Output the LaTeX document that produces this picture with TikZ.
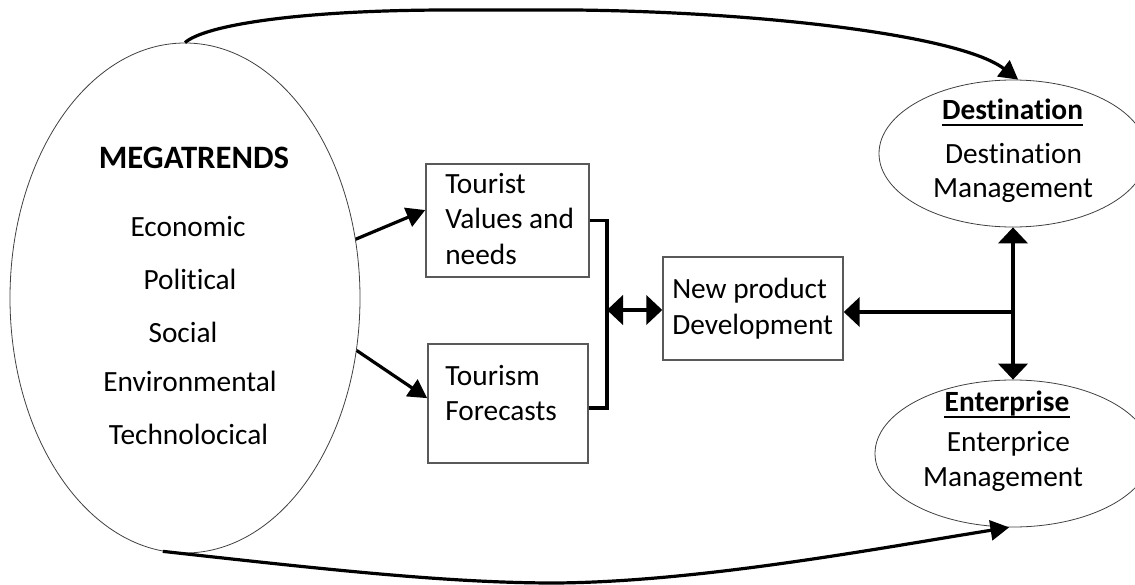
\documentclass[tikz,border=0pt]{standalone}
\usepackage{fontspec}
\setmainfont[Ligatures=NoCommon]{Carlito}
\usetikzlibrary{arrows.meta,shapes.geometric}
\begin{document}
\begin{tikzpicture}[x=0.75pt,y=-0.75pt,
  every node/.style={font=\fontsize{22}{26}\selectfont},
  oval/.style={ellipse,draw=black!75,line width=0.6pt,inner sep=0pt},
  box/.style={draw=black!65,line width=1.1pt,inner sep=0pt},
  lbl/.style={anchor=base,inner sep=0pt},
  lbll/.style={anchor=base west,inner sep=0pt},
  conn/.style={line width=2.4pt},
  smalltip/.style={-{Triangle[length=14pt,width=15pt]}},
  bigtip/.style={-{Triangle[length=12pt,width=22pt]}},
  bigboth/.style={{Triangle[length=12pt,width=22pt]}-{Triangle[length=12pt,width=22pt]}}
]
\useasboundingbox (0,0) rectangle (1135,585);

% shapes
\node[oval,minimum width=262.5pt,minimum height=382.5pt] (mega) at (185,298) {};
\node[oval,minimum width=201pt,minimum height=110.25pt] (dest) at (1013,153.5) {};
\node[oval,minimum width=207pt,minimum height=110.25pt] (ent) at (1013,453.5) {};
\node[box,minimum width=122.25pt,minimum height=84.75pt] (tv) at (507.5,220.7) {};
\node[box,minimum width=120pt,minimum height=89.25pt] (tf) at (508,403.5) {};
\node[box,minimum width=135pt,minimum height=77.25pt] (np) at (753,308.5) {};

% megatrends texts
\node[lbl,font=\fontsize{24.5}{28}\selectfont] (mt) at (194,168) {\textbf{MEGATRENDS}};
\node[lbl] (m1) at (188,236) {Economic};
\node[lbl] (m2) at (190,289.5) {Political};
\node[lbl] (m3) at (183,342.5) {Social};
\node[lbl] (m4) at (190,391.5) {Environmental};
\node[lbl] (m5) at (188.5,444) {Technolocical};

% box texts
\node[lbll] (tv1) at (445,193) {Tourist};
\node[lbll] (tv2) at (445,228) {Values and};
\node[lbll] (tv3) at (445,264) {needs};
\node[lbll] (tf1) at (445,385) {Tourism};
\node[lbll] (tf2) at (445,420) {Forecasts};
\node[lbll] (np1) at (672,298) {New product};
\node[lbll] (np2) at (672,334) {Development};

% destination / enterprise texts
\node[lbl] (d0) at (1012.5,119) {\textbf{Destination}};
\draw[line width=1.2pt] (942,125) -- (1083,125);
\node[lbl] (d1) at (1013.5,163) {Destination};
\node[lbl] (d2) at (1013,197) {Management};
\node[lbl] (e0) at (1007,411) {\textbf{Enterprise}};
\draw[line width=1.2pt] (944,417) -- (1070,417);
\node[lbl] (e1) at (1008.5,451) {Enterprice};
\node[lbl] (e2) at (1003,486) {Management};

% connectors
\draw[conn,smalltip] (mega.19) -- ([yshift=8pt]tv.west);
\draw[conn,smalltip] (mega.-17) -- ([yshift=4pt]tf.west);
\draw[conn,smalltip] (mega.north) .. controls (205,25) and (300,10) .. (450,10)
  -- (575,10) .. controls (760,12) and (960,35) .. (dest.86);
\draw[conn,smalltip] (mega.-95) .. controls (330,570) and (450,583) .. (555,583)
  .. controls (700,582) and (880,548) .. (ent.-93);

\coordinate (b) at (607,310);
\draw[conn] (tv.east) -| (b) |- ([yshift=-3.4pt]tf.east);
\draw[conn,bigboth] (b) -- (b -| np.west);

\coordinate (j) at (1013,312);
\draw[conn,bigtip] (j) -- (j -| np.east);
\draw[conn,bigboth] (dest.south) -- (ent.north);
\end{tikzpicture}
\end{document}
